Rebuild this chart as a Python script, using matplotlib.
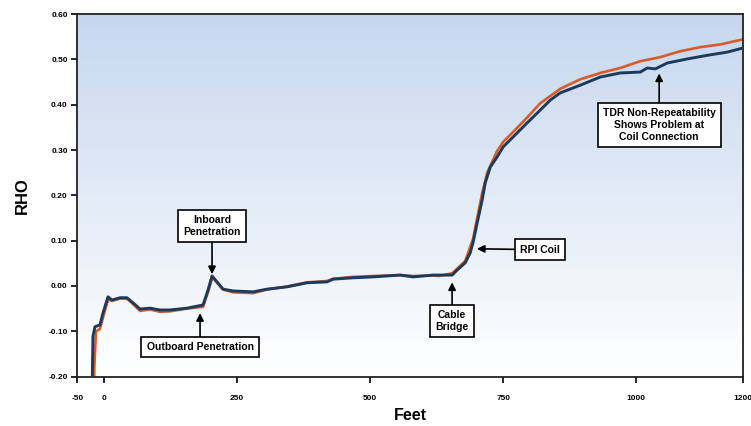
import numpy as np
import matplotlib.pyplot as plt

# blue trace (feet, rho)
blue_ft = [-22.6, -20.7, -16.9, -7.5, -1.9, 7.5, 15.0, 30.1, 43.2, 54.5, 67.7, 86.5,
           105.3, 124.1, 156.0, 186.1, 195.5, 203.0, 212.4, 223.7, 242.5, 280.1, 306.4,
           344.0, 381.6, 419.2, 430.5, 468.0, 505.6, 556.4, 580.8, 618.4, 644.7, 654.1,
           663.5, 678.6, 688.0, 693.6, 701.1, 710.5, 716.2, 725.6, 738.7, 750.0, 768.8,
           795.1, 819.5, 838.3, 857.1, 894.7, 932.3, 969.9, 1007.5, 1020.7, 1035.7,
           1058.3, 1095.9, 1133.5, 1171.1, 1200.0]
blue_rho = [-0.25, -0.112, -0.090, -0.086, -0.060, -0.024, -0.031, -0.026, -0.026, -0.037,
            -0.051, -0.049, -0.053, -0.053, -0.049, -0.042, -0.009, 0.022, 0.009, -0.007,
            -0.011, -0.013, -0.007, -0.002, 0.007, 0.009, 0.015, 0.018, 0.020, 0.024,
            0.020, 0.024, 0.024, 0.024, 0.035, 0.051, 0.073, 0.097, 0.139, 0.190, 0.227,
            0.262, 0.285, 0.307, 0.329, 0.360, 0.388, 0.410, 0.426, 0.443, 0.461, 0.470,
            0.472, 0.481, 0.479, 0.492, 0.501, 0.509, 0.516, 0.525]

# orange trace (feet, rho)
orange_ft = [-19.0, -18.0, -15.0, -7.5, -1.0, 8.0, 15.0, 30.1, 43.2, 54.5, 67.7, 86.5,
             105.3, 124.1, 156.0, 186.1, 196.0, 203.5, 212.4, 223.7, 242.5, 280.1, 306.4,
             344.0, 381.6, 419.2, 430.5, 468.0, 505.6, 556.4, 580.8, 618.4, 629.7, 654.1,
             678.6, 693.6, 701.1, 710.5, 719.9, 738.7, 750.0, 768.8, 795.1, 819.5, 857.1,
             894.7, 932.3, 969.9, 1007.5, 1045.1, 1082.7, 1120.3, 1157.9, 1200.0]
orange_rho = [-0.25, -0.178, -0.100, -0.095, -0.066, -0.030, -0.033, -0.028, -0.028, -0.040,
              -0.055, -0.052, -0.057, -0.056, -0.050, -0.046, -0.012, 0.019, 0.007, -0.008,
              -0.014, -0.016, -0.008, -0.001, 0.008, 0.011, 0.016, 0.020, 0.022, 0.024,
              0.022, 0.023, 0.022, 0.028, 0.055, 0.105, 0.150, 0.205, 0.250, 0.298, 0.318,
              0.340, 0.372, 0.403, 0.435, 0.456, 0.470, 0.481, 0.496, 0.505, 0.518, 0.527,
              0.533, 0.544]

xticks = [-50, 0, 250, 500, 750, 1000, 1200]
yticks = [-0.20, -0.10, 0.00, 0.10, 0.20, 0.30, 0.40, 0.50, 0.60]

# callouts: text, arrow tip (ft, rho), box centre (ft, rho)
notes = [
    ("Inboard\nPenetration", (203, 0.026), (203, 0.132)),
    ("Outboard Penetration", (180.5, -0.060), (180.5, -0.135)),
    ("Cable\nBridge", (654, 0.008), (654, -0.077)),
    ("RPI Coil", (700.5, 0.082), (819.5, 0.080)),
    ("TDR Non-Repeatability\nShows Problem at\nCoil Connection", (1043, 0.469), (1043, 0.355)),
]

plt.rcParams['font.family'] = ['Liberation Sans', 'DejaVu Sans']
plt.rcParams['font.weight'] = 'bold'

fig = plt.figure(figsize=(7.51, 4.26), dpi=100)
ax = fig.add_axes([0.103, 0.116, 0.886, 0.851])

grad = np.linspace(0, 1, 256).reshape(-1, 1)
top = np.array([0.776, 0.843, 0.933])
bottom = np.array([1.0, 1.0, 1.0])
img = top + (bottom - top) * grad[..., None]
ax.imshow(img.reshape(256, 1, 3), extent=[0, 1, 0, 1], transform=ax.transAxes,
          aspect='auto', zorder=0)

ax.plot(orange_ft, orange_rho, color='#d95b2a', lw=1.9, zorder=2)
ax.plot(blue_ft, blue_rho, color='#1d3a5c', lw=2.1, zorder=3)

ax.set_xlim(-50, 1200)
ax.set_ylim(-0.20, 0.60)
ax.set_xticks(xticks)
ax.set_xticklabels([str(t) for t in xticks])
ax.set_yticks(yticks)
ax.set_yticklabels([f"{t:.2f}" for t in yticks])
ax.tick_params(labelsize=6, length=4, width=1.2, pad=3)
ax.tick_params(axis='x', pad=9)
for s in ax.spines.values():
    s.set_linewidth(1.3)
    s.set_color('#222222')

ax.set_xlabel("Feet", fontsize=11.5, fontweight='bold')
ax.set_ylabel("RHO", fontsize=12, fontweight='bold')
ax.xaxis.set_label_coords(0.5, -0.088)
ax.yaxis.set_label_coords(-0.072, 0.5)

for txt, tip, box in notes:
    ax.annotate(txt, xy=tip, xytext=box, ha='center', va='center', fontsize=7.5,
                fontweight='bold', linespacing=1.2, zorder=5,
                bbox=dict(boxstyle='square,pad=0.5', fc='white', ec='black', lw=1.2),
                arrowprops=dict(arrowstyle='-|>', color='black', lw=1.2,
                                mutation_scale=11, shrinkA=0, shrinkB=0))

fig.savefig("out.png", dpi=100)
